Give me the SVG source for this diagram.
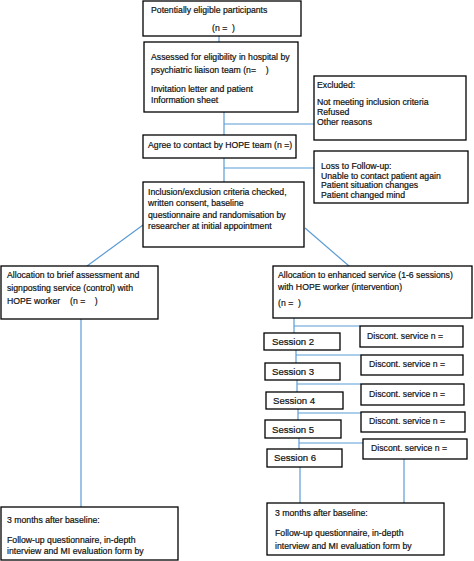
<svg xmlns="http://www.w3.org/2000/svg" width="474" height="561" viewBox="0 0 474 561">
<style>
.b{fill:#fff;stroke:#000;stroke-width:1.3}
.t{font-family:"Liberation Sans",Arial,sans-serif;font-size:8.7px;fill:#111;stroke:#111;stroke-width:0.2;white-space:pre}
.s{font-size:9.6px}
.c{fill:none;stroke:#5b9bd5;stroke-width:1.2}
</style>
<rect width="474" height="561" fill="#fff"/>
<g id="connectors">
<line class="c" x1="219" y1="36" x2="219" y2="42"/>
<polyline class="c" points="224,112 224,135"/>
<line class="c" x1="224" y1="124" x2="314" y2="124"/>
<polyline class="c" points="224,158 224,182"/>
<line class="c" x1="224" y1="168" x2="314" y2="168"/>
<line class="c" x1="143" y1="225" x2="87" y2="266"/>
<line class="c" x1="305" y1="228" x2="349" y2="266"/>
<line class="c" x1="81" y1="319" x2="81" y2="507"/>
<line class="c" x1="294" y1="318" x2="294" y2="333"/>
<line class="c" x1="294" y1="326" x2="360" y2="326"/>
<line class="c" x1="296" y1="350" x2="296" y2="363"/>
<line class="c" x1="296" y1="355" x2="361" y2="355"/>
<line class="c" x1="297" y1="380" x2="297" y2="392"/>
<line class="c" x1="297" y1="384" x2="361" y2="384"/>
<line class="c" x1="298" y1="409" x2="298" y2="420"/>
<line class="c" x1="298" y1="413" x2="361" y2="413"/>
<line class="c" x1="299" y1="438" x2="299" y2="449"/>
<line class="c" x1="299" y1="443" x2="363" y2="443"/>
<line class="c" x1="300" y1="467" x2="300" y2="503"/>
<line class="c" x1="404" y1="459" x2="404" y2="503"/>
</g>
<g id="n1"><rect class="b" x="143" y="1" width="158" height="35"/>
<text class="t" x="151" y="13">Potentially eligible participants</text>
<text class="t" x="212" y="31">(n =  )</text></g>
<g id="n2"><rect class="b" x="144" y="42" width="154" height="70"/>
<text class="t" x="151" y="60">Assessed for eligibility in hospital by</text>
<text class="t" x="151" y="73">psychiatric liaison team (n=    )</text>
<text class="t" x="151" y="92">Invitation letter and patient</text>
<text class="t" x="151" y="103">Information sheet</text></g>
<g id="excluded"><rect class="b" x="314" y="76" width="152" height="64"/>
<text class="t" x="317" y="88">Excluded:</text>
<text class="t" x="317" y="105">Not meeting inclusion criteria</text>
<text class="t" x="317" y="115">Refused</text>
<text class="t" x="317" y="125">Other reasons</text></g>
<g id="n3"><rect class="b" x="143" y="135" width="153" height="23"/>
<text class="t" x="148" y="148">Agree to contact by HOPE team (n =)</text></g>
<g id="loss"><rect class="b" x="314" y="151" width="154" height="52"/>
<text class="t" x="321" y="169">Loss to Follow-up:</text>
<text class="t" x="321" y="179">Unable to contact patient again</text>
<text class="t" x="321" y="188">Patient situation changes</text>
<text class="t" x="321" y="198">Patient changed mind</text></g>
<g id="n4"><rect class="b" x="143" y="182" width="161" height="65"/>
<text class="t" x="148" y="195">Inclusion/exclusion criteria checked,</text>
<text class="t" x="148" y="206">written consent, baseline</text>
<text class="t" x="148" y="218">questionnaire and randomisation by</text>
<text class="t" x="148" y="229">researcher at initial appointment</text></g>
<g id="control"><rect class="b" x="1" y="266" width="157" height="53"/>
<text class="t" x="7" y="278">Allocation to brief assessment and</text>
<text class="t" x="7" y="291">signposting service (control) with</text>
<text class="t" x="7" y="304">HOPE worker</text>
<text class="t" x="70" y="304">(n =    )</text></g>
<g id="intervention"><rect class="b" x="273" y="266" width="199" height="52"/>
<text class="t" x="278" y="278">Allocation to enhanced service (1-6 sessions)</text>
<text class="t" x="278" y="290">with HOPE worker (intervention)</text>
<text class="t" x="278" y="306">(n =  )</text></g>
<g id="s2"><rect class="b" x="264" y="333" width="76" height="17"/><text class="t s" x="272" y="345">Session 2</text></g>
<g id="d1"><rect class="b" x="360" y="326" width="103" height="21"/><text class="t" x="367" y="339">Discont. service n =</text></g>
<g id="s3"><rect class="b" x="265" y="363" width="75" height="17"/><text class="t s" x="272" y="375">Session 3</text></g>
<g id="d2"><rect class="b" x="361" y="355" width="102" height="20"/><text class="t" x="369" y="367">Discont. service n =</text></g>
<g id="s4"><rect class="b" x="266" y="392" width="77" height="17"/><text class="t s" x="273" y="404">Session 4</text></g>
<g id="d3"><rect class="b" x="361" y="384" width="103" height="21"/><text class="t" x="369" y="397">Discont. service n =</text></g>
<g id="s5"><rect class="b" x="265" y="420" width="76" height="18"/><text class="t s" x="272" y="433">Session 5</text></g>
<g id="d4"><rect class="b" x="361" y="412" width="104" height="20"/><text class="t" x="369" y="424">Discont. service n =</text></g>
<g id="s6"><rect class="b" x="267" y="449" width="75" height="18"/><text class="t s" x="274" y="461">Session 6</text></g>
<g id="d5"><rect class="b" x="363" y="439" width="104" height="20"/><text class="t" x="371" y="451">Discont. service n =</text></g>
<g id="fu1"><rect class="b" x="1" y="507" width="177" height="53"/>
<text class="t" x="7" y="523">3 months after baseline:</text>
<text class="t" x="7" y="543">Follow-up questionnaire, in-depth</text>
<text class="t" x="7" y="554">interview and MI evaluation form by</text></g>
<g id="fu2"><rect class="b" x="267" y="503" width="177" height="52"/>
<text class="t" x="275" y="516">3 months after baseline:</text>
<text class="t" x="275" y="536">Follow-up questionnaire, in-depth</text>
<text class="t" x="275" y="549">interview and MI evaluation form by</text></g>
</svg>
